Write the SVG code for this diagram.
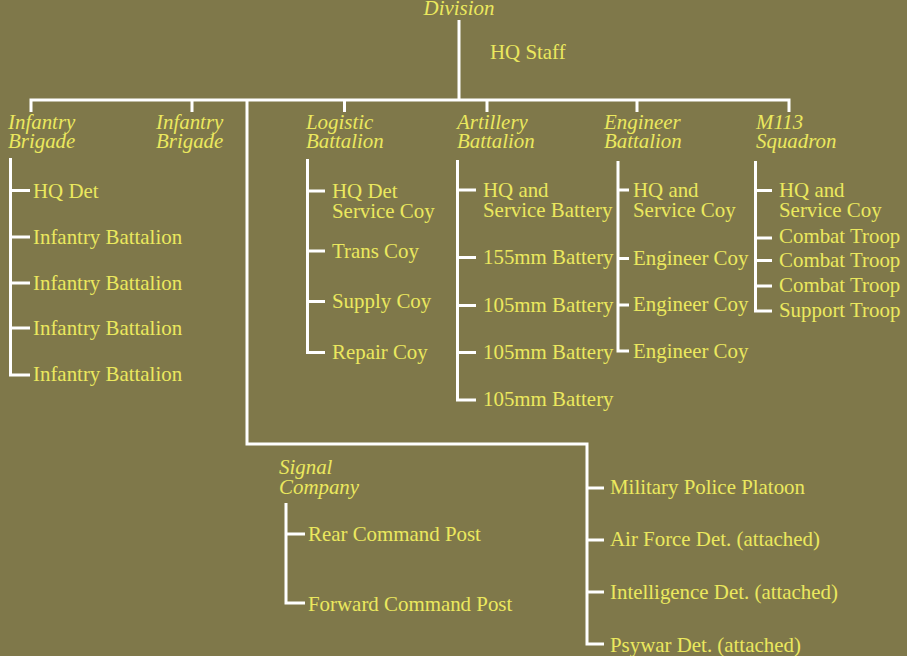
<svg xmlns="http://www.w3.org/2000/svg" width="907" height="656" viewBox="0 0 907 656">
<style>
  .bg{fill:#7f784a}
  .ln{fill:none;stroke:#ffffff;stroke-width:3;stroke-linejoin:miter;stroke-linecap:butt}
  text{font-family:"Liberation Serif","Times New Roman",serif;font-size:20.9px;fill:#ebe85e}
  .h{font-style:italic}
</style>
<rect class="bg" x="0" y="0" width="907" height="656"/>
<g id="connectors">
  <path class="ln" d="M459,20 V100"/>
  <path class="ln" d="M31,112 V100 H789 V112"/>
  <path class="ln" d="M192,100 V112 M344.5,100 V112 M487,100 V112 M637,100 V112"/>
  <path class="ln" d="M247,100 V444 H587 V644 H604"/>
  <path class="ln" d="M587,488 H604 M587,540 H604 M587,592 H604"/>
  <path class="ln" d="M10.5,158 V375 H30 M10.5,190.5 H30 M10.5,237 H30 M10.5,283 H30 M10.5,328 H30"/>
  <path class="ln" d="M307.5,159 V352.5 H325 M307.5,191 H325 M307.5,251 H325 M307.5,301.5 H325"/>
  <path class="ln" d="M457.5,160 V400 H476 M457.5,190 H476 M457.5,257.5 H476 M457.5,305.5 H476 M457.5,352.5 H476"/>
  <path class="ln" d="M618,161 V351 H629 M618,190 H629 M618,258.5 H629 M618,305 H629"/>
  <path class="ln" d="M755.5,161 V311 H772 M755.5,190.5 H772 M755.5,238 H772 M755.5,260.5 H772 M755.5,286 H772"/>
  <path class="ln" d="M286,503 V603 H305 M286,534 H305"/>
</g>
<g id="division"><text class="h" x="459" y="14.5" text-anchor="middle">Division</text></g>
<g id="hq-staff"><text x="490" y="59">HQ Staff</text></g>
<g id="infantry-brigade-1">
  <text class="h" x="8" y="129">Infantry</text>
  <text class="h" x="8" y="148">Brigade</text>
  <text x="33" y="198">HQ Det</text>
  <text x="33" y="244">Infantry Battalion</text>
  <text x="33" y="290">Infantry Battalion</text>
  <text x="33" y="335">Infantry Battalion</text>
  <text x="33" y="381">Infantry Battalion</text>
</g>
<g id="infantry-brigade-2">
  <text class="h" x="156" y="129">Infantry</text>
  <text class="h" x="156" y="148">Brigade</text>
</g>
<g id="logistic-battalion">
  <text class="h" x="306" y="129">Logistic</text>
  <text class="h" x="306" y="148">Battalion</text>
  <text x="332" y="198">HQ Det</text>
  <text x="332" y="218">Service Coy</text>
  <text x="332" y="258">Trans Coy</text>
  <text x="332" y="308">Supply Coy</text>
  <text x="332" y="359">Repair Coy</text>
</g>
<g id="artillery-battalion">
  <text class="h" x="457" y="129">Artillery</text>
  <text class="h" x="457" y="148">Battalion</text>
  <text x="483" y="197">HQ and</text>
  <text x="483" y="217">Service Battery</text>
  <text x="483" y="264">155mm Battery</text>
  <text x="483" y="312">105mm Battery</text>
  <text x="483" y="359">105mm Battery</text>
  <text x="483" y="406">105mm Battery</text>
</g>
<g id="engineer-battalion">
  <text class="h" x="604" y="129">Engineer</text>
  <text class="h" x="604" y="148">Battalion</text>
  <text x="633" y="197">HQ and</text>
  <text x="633" y="217">Service Coy</text>
  <text x="633" y="265">Engineer Coy</text>
  <text x="633" y="311">Engineer Coy</text>
  <text x="633" y="358">Engineer Coy</text>
</g>
<g id="m113-squadron">
  <text class="h" x="756" y="129">M113</text>
  <text class="h" x="756" y="148">Squadron</text>
  <text x="779" y="197">HQ and</text>
  <text x="779" y="217">Service Coy</text>
  <text x="779" y="243">Combat Troop</text>
  <text x="779" y="267">Combat Troop</text>
  <text x="779" y="292">Combat Troop</text>
  <text x="779" y="317">Support Troop</text>
</g>
<g id="signal-company">
  <text class="h" x="279" y="474">Signal</text>
  <text class="h" x="279" y="494">Company</text>
  <text x="308" y="541">Rear Command Post</text>
  <text x="308" y="611">Forward Command Post</text>
</g>
<g id="attached-units">
  <text x="610" y="494">Military Police Platoon</text>
  <text x="610" y="546">Air Force Det. (attached)</text>
  <text x="610" y="599">Intelligence Det. (attached)</text>
  <text x="610" y="652">Psywar Det. (attached)</text>
</g>
</svg>
